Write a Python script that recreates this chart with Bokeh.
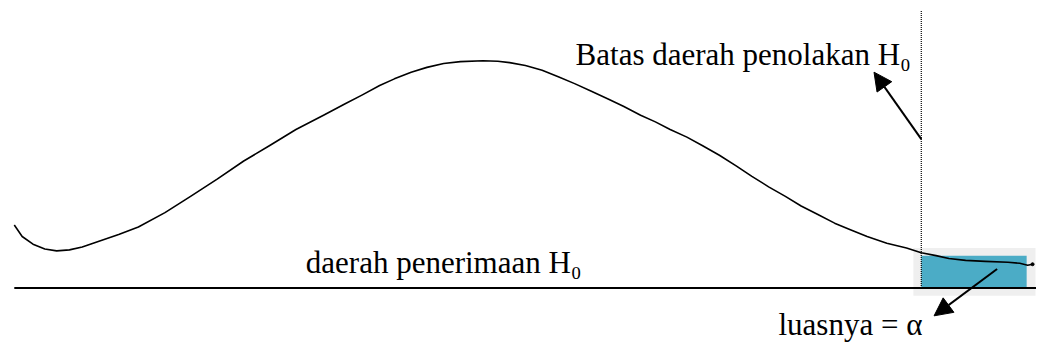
from bokeh.plotting import figure
from bokeh.models import Range1d, Arrow, NormalHead
from bokeh.core.properties import value
from bokeh.embed import file_html
from bokeh.resources import INLINE

# curve: x position and screen-y (converted to height above baseline)
curve_x = [14, 22, 33, 45, 57, 70, 83, 100, 120, 140, 167, 193, 220, 247, 273, 300,
           328, 350, 367, 385, 400, 417, 433, 450, 467, 490, 505, 517, 533, 550,
           567, 583, 600, 617, 633, 650, 665, 680, 697, 713, 730, 747, 763, 780,
           797, 813, 830, 847, 863, 880, 900, 920, 935, 950, 963, 980, 1000, 1023,
           1035, 1043]
curve_sy = [235, 247, 255, 260, 262, 261, 258, 252, 245, 237, 222, 205, 187, 168, 152, 135,
            120, 108, 99, 89, 82, 75, 70, 66, 64, 63, 63.5, 65, 68, 73,
            80, 87, 95, 103, 111, 120, 127, 135, 143, 152, 162, 173, 184, 195,
            205, 215, 224, 233, 240, 247, 254, 259, 264, 267, 270, 272, 273, 274,
            275, 277]
BASE = 301
curve_y = [BASE - v for v in curve_sy]
end_point = [1048, BASE - 276]

critical_x = 935
region_right = 1042
region_height = BASE - 267
shadow_left, shadow_right = 927, 1051
shadow_bottom, shadow_top = BASE - 309, BASE - 259

axis_x = [14, 1052]
dotted_top = BASE - 10

labels = ["Batas daerah penolakan H₀", "daerah penerimaan H₀", "luasnya = α"]
label_x = [584, 310, 790]
label_y = [BASE - 57, BASE - 274, BASE - 339]

arrow1 = dict(x_start=935, y_start=BASE - 145, x_end=887, y_end=BASE - 75)
arrow2 = dict(x_start=1012, y_start=BASE - 281, x_end=948, y_end=BASE - 330)

W, H = 1036, 344
p = figure(width=W, height=H, output_backend="svg", toolbar_location=None,
           x_range=Range1d(0, 1052), y_range=Range1d(BASE - 360, BASE),
           min_border=0)
p.axis.visible = False
p.grid.visible = False
p.outline_line_color = None
p.background_fill_color = "white"

p.quad(left=[shadow_left], right=[shadow_right], bottom=[shadow_bottom], top=[shadow_top],
       fill_color="#efefef", line_color=None)
p.quad(left=[critical_x], right=[region_right], bottom=[0], top=[region_height],
       fill_color="#4bacc6", line_color=None)

p.line(axis_x, [0, 0], line_color="black", line_width=2)
p.line([critical_x, critical_x], [0, dotted_top], line_color="black", line_width=1.2,
       line_dash="1 1")
p.line(curve_x + [end_point[0]], curve_y + [end_point[1]], line_color="black",
       line_width=1.6, line_join="round")
p.scatter([end_point[0]], [end_point[1]], size=3, color="black")

p.text(x=label_x, y=label_y, text=labels, text_font=value("Liberation Serif"),
       text_font_size="31px", text_color="black", text_baseline="alphabetic",
       text_align="left")

for a in (arrow1, arrow2):
    p.add_layout(Arrow(end=NormalHead(size=18, fill_color="black", line_color="black"),
                       line_color="black", line_width=2, **a))

open("out.html", "w").write(file_html(p, INLINE))
